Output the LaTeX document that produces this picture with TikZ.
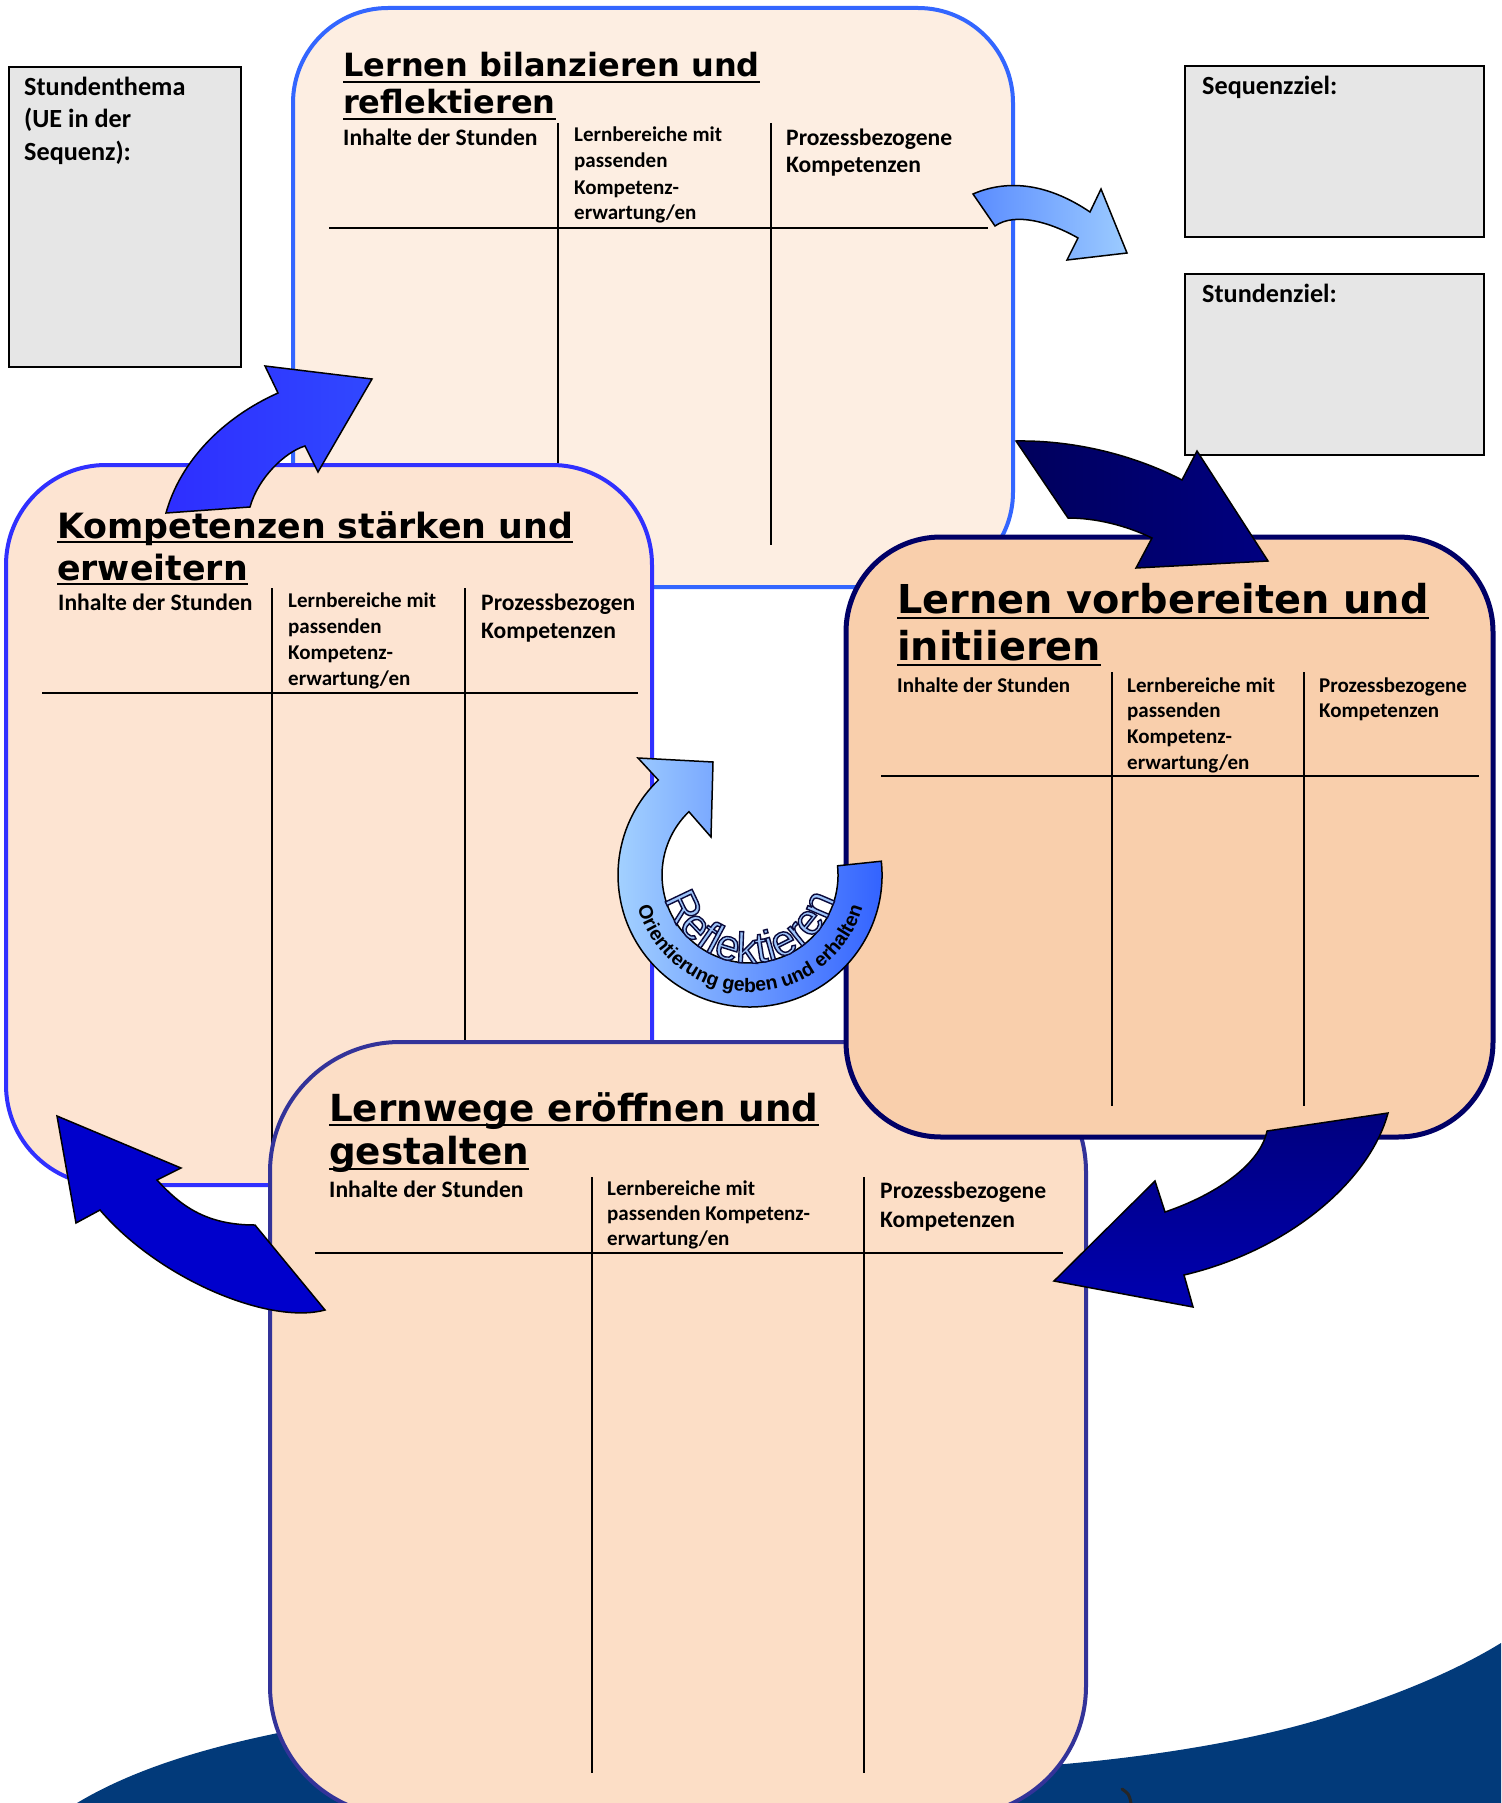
\documentclass[tikz,border=0pt]{standalone}
\usepackage{fontspec}
\setmainfont{Carlito}
\newfontfamily\dvs{DejaVu Sans}
\newfontfamily\libsans{Liberation Sans}
\usetikzlibrary{decorations.text}
\definecolor{grayfill}{HTML}{E6E6E6}
\definecolor{topfill}{HTML}{FDEEE2}
\definecolor{topdraw}{HTML}{3366FF}
\definecolor{kompfill}{HTML}{FDE4D2}
\definecolor{kompdraw}{HTML}{3030FF}
\definecolor{vorfill}{HTML}{F9CFAC}
\definecolor{vordraw}{HTML}{000066}
\definecolor{wegfill}{HTML}{FCDEC6}
\definecolor{wegdraw}{HTML}{333399}
\definecolor{wavecol}{HTML}{023A7A}
\definecolor{arrAL}{HTML}{5A8CFF}
\definecolor{arrAR}{HTML}{9CCBFF}
\definecolor{arrBL}{HTML}{00005C}
\definecolor{arrBR}{HTML}{000080}
\definecolor{arrCL}{HTML}{2E2EFF}
\definecolor{arrCR}{HTML}{3048FF}
\definecolor{arrD}{HTML}{0000CC}
\definecolor{arrET}{HTML}{00007E}
\definecolor{arrEB}{HTML}{0000B0}
\definecolor{ringL}{HTML}{A4D2FF}
\definecolor{ringR}{HTML}{3060FF}
\definecolor{reflfill}{HTML}{9EC4FA}
\begin{document}
\begin{tikzpicture}[x=1pt,y=-1pt,
  box/.style={rounded corners=#1, inner sep=0pt, outer sep=0pt},
  graybox/.style={draw=black, line width=2.5pt, fill=grayfill, inner sep=0pt, outer sep=0pt},
  title/.style={anchor=base west, inner sep=0pt},
  hA/.style={anchor=base west, inner sep=0pt, font=\bfseries\fontsize{23.6}{27}\selectfont},
  hB/.style={anchor=base west, inner sep=0pt, font=\bfseries\fontsize{21}{25}\selectfont},
  hC/.style={anchor=base west, inner sep=0pt, font=\bfseries\fontsize{21}{25}\selectfont},
  st/.style={anchor=base west, inner sep=0pt, font=\bfseries\fontsize{26.2}{30}\selectfont},
  hline/.style={draw=black, line width=2pt},
  vline/.style={draw=black, line width=1.6pt},
  uline/.style={draw=black, line width=2.8pt},
  blockarrow/.style={draw=black, line width=1.5pt, line join=miter}
]
\useasboundingbox (0,0) rectangle (1501,1803);
\clip (0,0) rectangle (1501,1803);
\fill[white] (0,0) rectangle (1501,1803);

% bottom wave
\fill[wavecol] (77,1803) .. controls (140,1765) and (220,1745) .. (278,1733) -- (1053,1765) .. controls (1150,1757) and (1260,1740) .. (1340,1713) .. controls (1410,1690) and (1460,1668) .. (1501,1643) -- (1501,1803) -- cycle;
\draw[line width=3pt, line cap=round, black!85] (1122,1789) .. controls (1129,1794) .. (1131,1803);

% ---------- top box
\node[box=95pt, draw=topdraw, fill=topfill, line width=4pt, minimum width=720pt, minimum height=579pt] (topbox) at (653,297.5) {};
\node[title, font=\dvs\bfseries\fontsize{32}{38}\selectfont] (tT1) at (343,77) {Lernen bilanzieren und};
\node[title, font=\dvs\bfseries\fontsize{32}{38}\selectfont] (tT2) at (343,114) {reflektieren};
\draw[uline] ([yshift=-5pt]tT1.base west) -- ([yshift=-5pt]tT1.base east);
\draw[uline] ([yshift=-5pt]tT2.base west) -- ([yshift=-5pt]tT2.base east);
\draw[hline] (329,228) -- (988,228);
\draw[vline] (558,123) -- (558,545);
\draw[vline] (771,123) -- (771,545);
\node[hA] (tH1) at (343,146) {Inhalte der Stunden};
\node[hB] (tH2a) at (574,142) {Lernbereiche mit};
\node[hB] (tH2b) at (574,168) {passenden};
\node[hB] (tH2c) at (574,195) {Kompetenz-};
\node[hB] (tH2d) at (574,220) {erwartung/en};
\node[hA] (tH3a) at (786,146) {Prozessbezogene};
\node[hA] (tH3b) at (786,173) {Kompetenzen};

% ---------- Kompetenzen box
\node[box=100pt, draw=kompdraw, fill=kompfill, line width=4pt, minimum width=646pt, minimum height=720pt] (kompbox) at (329,825) {};
\node[title, font=\dvs\bfseries\fontsize{34.8}{40}\selectfont] (kT1) at (57,538) {Kompetenzen stärken und};
\node[title, font=\dvs\bfseries\fontsize{34.8}{40}\selectfont] (kT2) at (57,580) {erweitern};
\draw[uline] ([yshift=-4pt]kT1.base west) -- ([yshift=-4pt]kT1.base east);
\draw[uline] ([yshift=-4pt]kT2.base west) -- ([yshift=-4pt]kT2.base east);
\draw[hline] (42,693) -- (638,693);
\draw[vline] (272,588) -- (272,1160);
\draw[vline] (465,588) -- (465,1160);
\node[hA] (kH1) at (58,610) {Inhalte der Stunden};
\node[hB] (kH2a) at (288,607) {Lernbereiche mit};
\node[hB] (kH2b) at (288,633) {passenden};
\node[hB] (kH2c) at (288,659) {Kompetenz-};
\node[hB] (kH2d) at (288,685) {erwartung/en};
\node[hA] (kH3a) at (481,610) {Prozessbezogen};
\node[hA] (kH3b) at (481,638) {Kompetenzen};

% ---------- Lernwege box
\node[box=130pt, draw=wegdraw, fill=wegfill, line width=4pt, minimum width=816pt, minimum height=774pt] (wegbox) at (678,1429) {};
\node[title, font=\dvs\bfseries\fontsize{37.3}{42}\selectfont] (wT1) at (329,1121) {Lernwege eröffnen und};
\node[title, font=\dvs\bfseries\fontsize{37.3}{42}\selectfont] (wT2) at (329,1164) {gestalten};
\draw[uline] ([yshift=-4pt]wT1.base west) -- ([yshift=-4pt]wT1.base east);
\draw[uline] ([yshift=-5pt]wT2.base west) -- ([yshift=-5pt]wT2.base east);
\draw[hline] (315,1253) -- (1063,1253);
\draw[vline] (592,1177) -- (592,1773);
\draw[vline] (864,1177) -- (864,1773);
\node[hA] (wH1) at (329,1197) {Inhalte der Stunden};
\node[hB] (wH2a) at (607,1195) {Lernbereiche mit};
\node[hB] (wH2b) at (607,1220) {passenden Kompetenz-};
\node[hB] (wH2c) at (607,1245) {erwartung/en};
\node[hA] (wH3a) at (880,1198) {Prozessbezogene};
\node[hA] (wH3b) at (880,1227) {Kompetenzen};

% ---------- Vorbereiten box
\node[box=95pt, draw=vordraw, fill=vorfill, line width=5pt, minimum width=647pt, minimum height=600pt] (vorbox) at (1169.5,837) {};
\node[title, font=\dvs\bfseries\fontsize{39.8}{45}\selectfont] (vT1) at (897,613) {Lernen vorbereiten und};
\node[title, font=\dvs\bfseries\fontsize{39.8}{45}\selectfont] (vT2) at (897,660) {initiieren};
\draw[uline] ([yshift=-5pt]vT1.base west) -- ([yshift=-5pt]vT1.base east);
\draw[uline] ([yshift=-5pt]vT2.base west) -- ([yshift=-5pt]vT2.base east);
\draw[hline] (881,776) -- (1479,776);
\draw[vline] (1112,672) -- (1112,1106);
\draw[vline] (1304,672) -- (1304,1106);
\node[hC] (vH1) at (897,692) {Inhalte der Stunden};
\node[hC] (vH2a) at (1127,692) {Lernbereiche mit};
\node[hC] (vH2b) at (1127,717) {passenden};
\node[hC] (vH2c) at (1127,743) {Kompetenz-};
\node[hC] (vH2d) at (1127,769) {erwartung/en};
\node[hC] (vH3a) at (1319,692) {Prozessbezogene};
\node[hC] (vH3b) at (1319,717) {Kompetenzen};

% ---------- gray boxes
\node[graybox, minimum width=232pt, minimum height=300pt] (thema) at (125,217) {};
\node[st] (themaT1) at (24,96) {Stundenthema};
\node[st] (themaT2) at (24,128) {(UE in der};
\node[st] (themaT3) at (24,161) {Sequenz):};
\node[graybox, minimum width=299pt, minimum height=171pt] (seq) at (1334.5,151.5) {};
\node[st] (seqT) at (1202,95) {Sequenzziel:};
\node[graybox, minimum width=299pt, minimum height=181pt] (stz) at (1334.5,364.5) {};
\node[st] (stzT) at (1202,302) {Stundenziel:};

% ---------- block arrows
\path[blockarrow, left color=arrAL, right color=arrAR]
  (995,226) -- (973,194) .. controls (1010,178) and (1050,185) .. (1090,212)
  -- (1101,189) -- (1127,253) -- (1067,260) -- (1078,238)
  .. controls (1050,222) and (1015,212) .. (995,226) -- cycle;
\path[blockarrow, left color=arrBL, right color=arrBR]
  (1068,518) -- (1016,441) .. controls (1080,440) and (1140,458) .. (1182,480)
  -- (1197,451) -- (1268,561) -- (1136,568) -- (1152,538)
  .. controls (1125,525) and (1095,518) .. (1068,518) -- cycle;
\path[blockarrow, left color=arrCL, right color=arrCR]
  (250,507) -- (166,513) .. controls (180,462) and (222,418) .. (278,393)
  -- (265,366) -- (372,379) -- (318,472) -- (305,446)
  .. controls (285,452) and (258,478) .. (250,507) -- cycle;
\path[blockarrow, fill=arrD]
  (57,1116) -- (181,1168) -- (157,1180) .. controls (180,1205) and (205,1225) .. (255,1225)
  -- (325,1310) .. controls (270,1325) and (160,1280) .. (100,1210)
  -- (76,1223) -- cycle;
\path[blockarrow, top color=arrET, bottom color=arrEB]
  (1267,1131) -- (1388,1113) .. controls (1370,1180) and (1290,1250) .. (1184,1275)
  -- (1193,1307) -- (1054,1281) -- (1155,1181) -- (1165,1212)
  .. controls (1215,1195) and (1260,1165) .. (1267,1131) -- cycle;

% ---------- circular arrow
\path[blockarrow, left color=ringL, right color=ringR]
  (881.3,861.2) arc[start angle=-6, end angle=226, radius=132]
  -- (638,758) -- (713,762) -- (711,837) -- (688.9,811.7)
  arc[start angle=226, end angle=-6, radius=88] -- cycle;
\path[decorate, decoration={text along path, text align=center, text color=reflfill,
    text={|\libsans\fontsize{43}{43}\selectfont\special{pdf:literal direct 2 Tr 1.4 w 0.04 0.04 0.23 RG}|Reflektieren}}]
    (662,875) arc[start angle=180, end angle=0, radius=88];
\path[decorate, decoration={text along path, text align=center, text color=black,
    text={|\libsans\bfseries\fontsize{19.5}{19.5}\selectfont|Orientierung geben und erhalten}}]
    (633,875) arc[start angle=180, end angle=0, radius=117];
\end{tikzpicture}
\end{document}
